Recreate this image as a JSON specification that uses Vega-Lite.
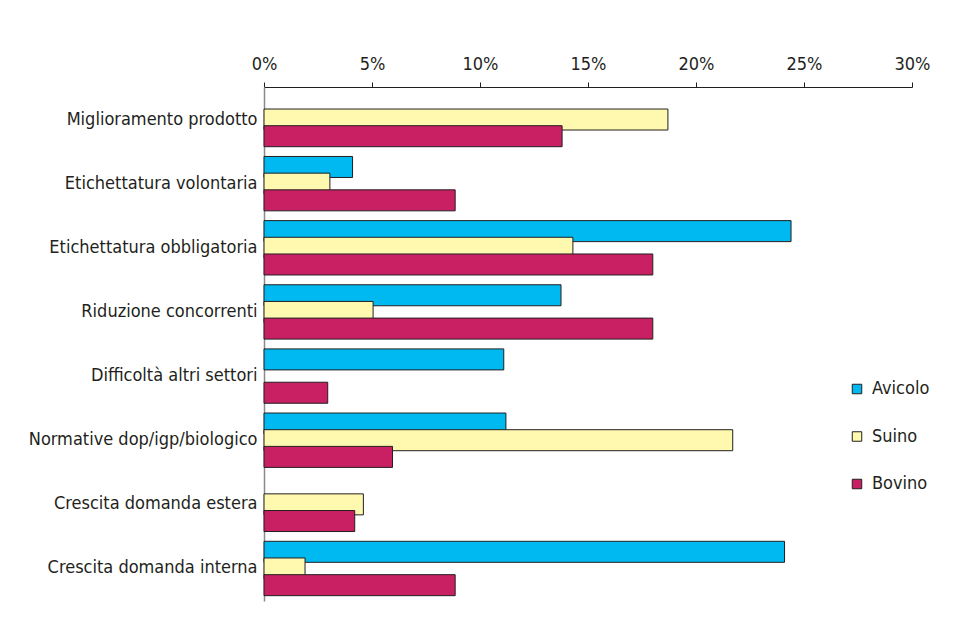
{
  "$schema": "https://vega.github.io/schema/vega-lite/v6.json",
  "width": 648,
  "height": 514,
  "autosize": "none",
  "padding": {"left": 264, "top": 87, "right": 50, "bottom": 32},
  "background": "white",
  "data": {
    "values": [
      {"cat": "Etichettatura volontaria", "serie": "Avicolo", "val": 4.1},
      {"cat": "Etichettatura obbligatoria", "serie": "Avicolo", "val": 24.4},
      {"cat": "Riduzione concorrenti", "serie": "Avicolo", "val": 13.75},
      {"cat": "Difficoltà altri settori", "serie": "Avicolo", "val": 11.1},
      {"cat": "Normative dop/igp/biologico", "serie": "Avicolo", "val": 11.2},
      {"cat": "Crescita domanda interna", "serie": "Avicolo", "val": 24.1},
      {"cat": "Miglioramento prodotto", "serie": "Suino", "val": 18.7},
      {"cat": "Etichettatura volontaria", "serie": "Suino", "val": 3.05},
      {"cat": "Etichettatura obbligatoria", "serie": "Suino", "val": 14.3},
      {"cat": "Riduzione concorrenti", "serie": "Suino", "val": 5.05},
      {"cat": "Normative dop/igp/biologico", "serie": "Suino", "val": 21.7},
      {"cat": "Crescita domanda estera", "serie": "Suino", "val": 4.6},
      {"cat": "Crescita domanda interna", "serie": "Suino", "val": 1.9},
      {"cat": "Miglioramento prodotto", "serie": "Bovino", "val": 13.8},
      {"cat": "Etichettatura volontaria", "serie": "Bovino", "val": 8.85},
      {"cat": "Etichettatura obbligatoria", "serie": "Bovino", "val": 18.0},
      {"cat": "Riduzione concorrenti", "serie": "Bovino", "val": 18.0},
      {"cat": "Difficoltà altri settori", "serie": "Bovino", "val": 2.95},
      {"cat": "Normative dop/igp/biologico", "serie": "Bovino", "val": 5.95},
      {"cat": "Crescita domanda estera", "serie": "Bovino", "val": 4.2},
      {"cat": "Crescita domanda interna", "serie": "Bovino", "val": 8.85}
    ]
  },
  "mark": {"type": "bar", "height": 21, "stroke": "#231F20", "strokeWidth": 1},
  "encoding": {
    "y": {
      "field": "cat",
      "type": "nominal",
      "scale": {
        "domain": ["Miglioramento prodotto", "Etichettatura volontaria", "Etichettatura obbligatoria", "Riduzione concorrenti", "Difficoltà altri settori", "Normative dop/igp/biologico", "Crescita domanda estera", "Crescita domanda interna"],
        "paddingInner": 0.22,
        "paddingOuter": 0.117
      },
      "axis": {
        "title": null,
        "ticks": false,
        "labelPadding": 7,
        "domainColor": "#8a8a8a",
        "domainWidth": 1.5,
        "labelFont": "DejaVu Sans Condensed, sans-serif",
        "labelFontSize": 18,
        "labelColor": "#231F20",
        "labelLimit": 400
      }
    },
    "yOffset": {
      "field": "serie",
      "type": "nominal",
      "scale": {"domain": ["Avicolo", "Suino", "Bovino"], "paddingInner": 0, "paddingOuter": 0}
    },
    "x": {
      "field": "val",
      "type": "quantitative",
      "scale": {"domain": [0, 30], "nice": false},
      "axis": {
        "orient": "top",
        "title": null,
        "values": [0, 5, 10, 15, 20, 25, 30],
        "labelExpr": "datum.value + '%'",
        "labelFlush": false,
        "labelOverlap": false,
        "grid": false,
        "tickSize": 5,
        "tickColor": "#231F20",
        "domainColor": "#231F20",
        "labelPadding": 9,
        "labelFont": "DejaVu Sans Condensed, sans-serif",
        "labelFontSize": 18,
        "labelColor": "#231F20"
      }
    },
    "color": {
      "field": "serie",
      "type": "nominal",
      "scale": {"domain": ["Avicolo", "Suino", "Bovino"], "range": ["#00B9F0", "#FFF9B0", "#C82062"]},
      "legend": {
        "title": null,
        "orient": "none",
        "legendX": 584,
        "legendY": 293,
        "symbolType": "square",
        "symbolSize": 90,
        "symbolStrokeColor": "#231F20",
        "symbolStrokeWidth": 1,
        "symbolOpacity": 1,
        "labelFont": "DejaVu Sans Condensed, sans-serif",
        "labelFontSize": 18,
        "labelColor": "#231F20",
        "labelOffset": 6,
        "rowPadding": 29.5
      }
    }
  },
  "config": {"view": {"stroke": null}}
}
